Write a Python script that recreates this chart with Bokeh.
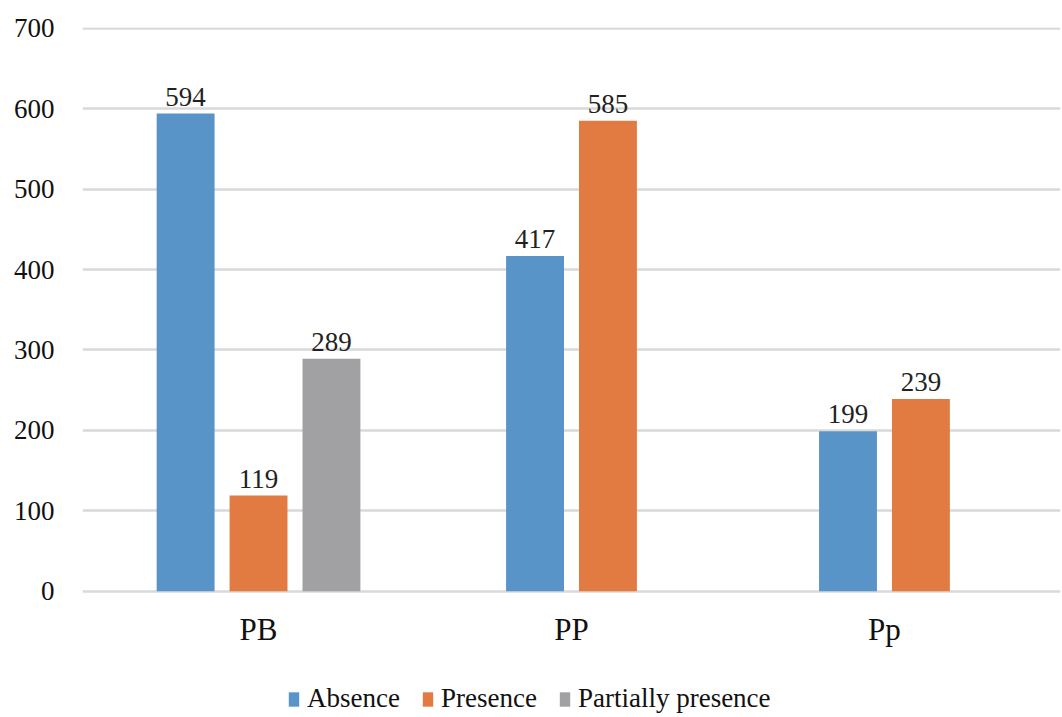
from bokeh.plotting import figure
from bokeh.models import (ColumnDataSource, FactorRange, Range1d, FixedTicker,
                          LabelSet, Legend, LegendItem)
from bokeh.embed import file_html
from bokeh.resources import INLINE

categories = ["PB", "PP", "Pp"]
series = ["Absence", "Presence", "Partially presence"]
absence = [594, 417, 199]
presence = [119, 585, 239]
partially = [289, None, None]
y_ticks = [0, 100, 200, 300, 400, 500, 600, 700]
colors = ["#5894C8", "#E27B42", "#A1A1A4"]

values = {"Absence": absence, "Presence": presence, "Partially presence": partially}
FONT = "Liberation Serif"
BAR_W = 0.185   # bar width, in category units
STEP = 0.233    # distance between neighbouring bars of one category
Y_MIN = -157    # room under the zero line for category labels and legend
Y_MAX = 701

x_range = FactorRange(factors=categories, range_padding=0.0625,
                      range_padding_units="absolute")

p = figure(frame_width=978, frame_height=690, x_range=x_range,
           y_range=Range1d(Y_MIN, Y_MAX), output_backend="svg",
           toolbar_location=None, min_border_left=82, min_border_right=2,
           min_border_top=27, min_border_bottom=0)
p.outline_line_color = None
p.background_fill_color = "white"
p.border_fill_color = "white"

# bars of each category are centred on the category (only present series)
present = {c: [s for s in series if values[s][i] is not None]
           for i, c in enumerate(categories)}

items = []
for s, col in zip(series, colors):
    xs, ys, labels = [], [], []
    for i, c in enumerate(categories):
        v = values[s][i]
        if v is not None:
            n = len(present[c])
            j = present[c].index(s)
            xs.append((c, (j - (n - 1) / 2) * STEP))
            ys.append(v)
            labels.append(str(v))
    src = ColumnDataSource(dict(x=xs, y=ys, label=labels))
    r = p.vbar(x="x", top="y", bottom=0, width=BAR_W, source=src,
               fill_color=col, line_color=None)
    items.append(LegendItem(label=s, renderers=[r]))
    lab = LabelSet(x="x", y="y", text="label", source=src, text_align="center",
                   text_baseline="alphabetic", y_offset=8,
                   text_font=FONT, text_font_size="27px", text_color="#222222")
    p.add_layout(lab)

# category labels under the zero line
cat_src = ColumnDataSource(dict(x=categories, y=[0] * len(categories),
                                text=categories))
p.add_layout(LabelSet(x="x", y="y", text="text", source=cat_src,
                      text_align="center", text_baseline="alphabetic",
                      y_offset=-49, text_font=FONT, text_font_size="31px",
                      text_color="#111111"))

# y axis
p.yaxis.ticker = FixedTicker(ticks=y_ticks)
p.yaxis.axis_line_color = None
p.yaxis.major_tick_line_color = None
p.yaxis.major_tick_out = 0
p.yaxis.minor_tick_line_color = None
p.yaxis.minor_tick_out = 0
p.yaxis.major_label_text_font = FONT
p.yaxis.major_label_text_font_size = "27px"
p.yaxis.major_label_text_color = "#111111"
p.yaxis.major_label_standoff = 28

p.xaxis.visible = False
p.xgrid.grid_line_color = None
p.ygrid.grid_line_color = "#D9D9D9"
p.ygrid.grid_line_width = 2.5

legend = Legend(items=items, orientation="horizontal", location=(205, 3))
legend.label_text_font = FONT
legend.label_text_font_size = "27px"
legend.label_text_color = "#111111"
legend.glyph_width = 13
legend.glyph_height = 18
legend.label_standoff = 7
legend.spacing = 21
legend.border_line_color = None
legend.background_fill_alpha = 0
legend.margin = 0
legend.padding = 0
p.add_layout(legend, "center")

open("out.html", "w").write(file_html(p, INLINE))
